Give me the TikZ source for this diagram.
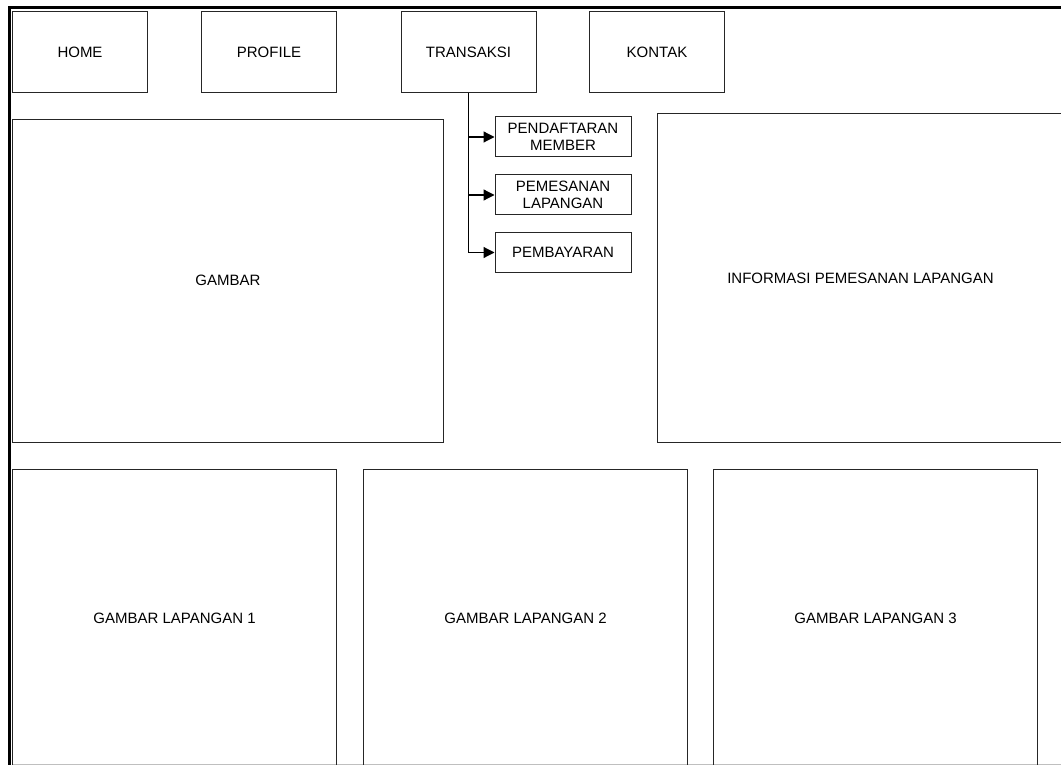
\documentclass[tikz,border=0pt]{standalone}
\usepackage{fontspec}
\setmainfont{Liberation Sans}
\usetikzlibrary{arrows.meta}
\begin{document}
\begin{tikzpicture}[x=1pt,y=-1pt,
  box/.style={draw=black!85, line width=1pt, anchor=north west, inner sep=0pt,
    align=center, font=\fontsize{15}{17}\selectfont},
  menu/.style={box, minimum width=135pt, minimum height=80.5pt},
  sub/.style={box, minimum width=136pt, minimum height=40pt},
  link/.style={draw=black, line width=1.2pt},
  tip/.style={-{Triangle[length=11pt,width=11pt]}}]
\useasboundingbox (0,0) rectangle (1061,765);
% page frame
\draw[line width=3pt] (9,766) -- (9,7.5) -- (1062,7.5);
\draw[black!25, line width=1pt] (12,764.5) -- (1061,764.5);
% navigation bar
\node[menu] (home)    at (12,11.5)    {HOME};
\node[menu] (profile) at (201,11.5)   {PROFILE};
\node[menu] (trans)   at (400.5,11.5) {TRANSAKSI};
\node[menu] (kontak)  at (589,11.5)   {KONTAK};
% sub menu of TRANSAKSI
\node[sub] (daftar) at (494.5,116.5) {PENDAFTARAN\\MEMBER};
\node[sub] (pesan)  at (494.5,174.5) {PEMESANAN\\LAPANGAN};
\node[sub] (bayar)  at (494.5,232)   {PEMBAYARAN};
\draw[link] (trans.south) -- (trans.south |- bayar.west);
\draw[link,tip] (trans.south |- daftar.west) -- (daftar.west);
\draw[link,tip] (trans.south |- pesan.west) -- (pesan.west);
\draw[link,tip] (trans.south |- bayar.west) -- (bayar.west);
% content areas
\node[box, minimum width=431pt, minimum height=322.5pt] (gambar) at (12,119) {GAMBAR};
\node[box, minimum width=406pt, minimum height=328pt] (info) at (657,113.5) {INFORMASI PEMESANAN LAPANGAN};
\node[box, minimum width=324pt, minimum height=298pt] (lap1) at (12,469)  {GAMBAR LAPANGAN 1};
\node[box, minimum width=324pt, minimum height=298pt] (lap2) at (363,469) {GAMBAR LAPANGAN 2};
\node[box, minimum width=324pt, minimum height=298pt] (lap3) at (713,469) {GAMBAR LAPANGAN 3};
\end{tikzpicture}
\end{document}
